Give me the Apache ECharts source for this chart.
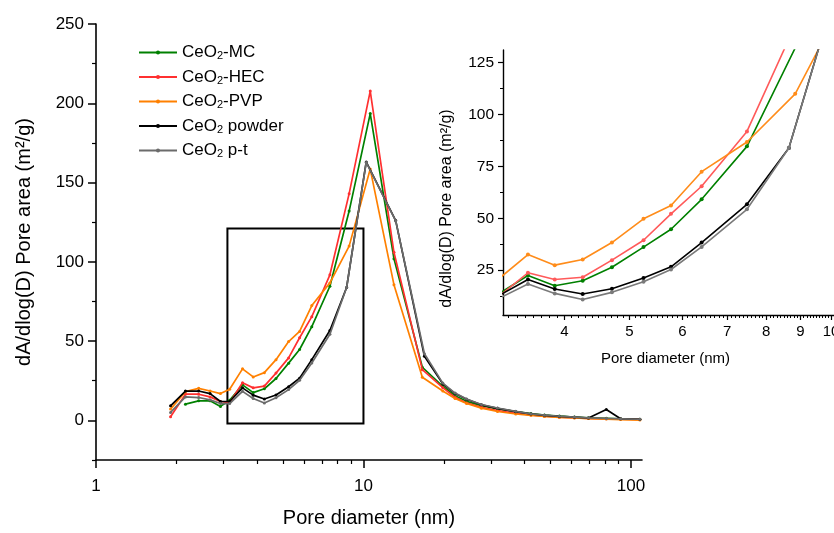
<!DOCTYPE html>
<html>
<head>
<meta charset="utf-8">
<title>Pore size distribution</title>
<script src="https://cdn.jsdelivr.net/npm/echarts@6/dist/echarts.min.js"></script>
<style>
  html, body { margin: 0; padding: 0; background: #fff; }
  #chart { width: 834px; height: 533px; }
</style>
</head>
<body>
<div id="chart"></div>
<script>
// pore diameters (nm) - the two BJH grids differ a little around the peak
var poreA = [1.90, 2.16, 2.42, 2.67, 2.92, 3.16, 3.53, 3.87, 4.26, 4.71, 5.25, 5.77, 6.41, 7.49, 8.84, 10.6, 13.0, 16.6,
  19.8, 22.0, 24.3, 27.6, 31.7, 37.1, 42.3, 47.5, 54.0, 61.5, 69.4, 80.9, 91.5, 108];
var poreB = [1.90, 2.16, 2.42, 2.67, 2.92, 3.16, 3.53, 3.87, 4.26, 4.71, 5.25, 5.77, 6.41, 7.49, 8.65, 10.24, 13.2, 16.9,
  19.8, 22.0, 24.3, 27.6, 31.7, 37.1, 42.3, 47.5, 54.0, 61.5, 69.4, 80.9, 91.5, 108];

var areaMC = [null, 10.2, 12.3, 12.3, 8.8, 12.7, 22.4, 17.5, 19.9, 26.4, 36.1, 44.7, 59.1, 84.6, 132, 193.5, 102, 33.5,
  21.5, 15.5, 12.0, 9.2, 7.2, 5.5, 4.3, 3.4, 2.7, 2.1, 1.6, 1.3, 1.0, 0.7];
var areaHEC = [2.3, 16.5, 16.5, 14.8, 11.9, 11.2, 23.7, 20.5, 21.6, 29.8, 39.4, 52.1, 65.4, 91.8, 143, 207.7, 106, 32.0,
  20.6, 14.5, 11.0, 8.2, 6.2, 4.5, 3.4, 2.6, 2.0, 1.6, 1.3, 1.0, 0.8, 0.6];
var areaPVP = [7.1, 18.1, 20.2, 18.5, 16.9, 19.6, 32.5, 27.4, 30.1, 38.3, 49.7, 56.1, 72.4, 86.7, 109.9, 158.5, 85.6, 27.2,
  18.5, 13.8, 10.6, 7.7, 5.6, 4.0, 3.2, 2.5, 1.9, 1.5, 1.1, 0.8, 0.5, 0.2];
var areaPowder = [9.2, 18.5, 18.5, 16.9, 11.9, 11.9, 20.5, 15.9, 13.5, 16.0, 21.2, 26.6, 38.3, 56.7, 83.8, 163, 126, 40.4,
  23.0, 16.9, 13.3, 9.8, 7.6, 5.5, 4.0, 3.2, 2.5, 2.0, 1.5, 6.8, 1.0, 0.7];
var areaPT = [5.0, 14.8, 14.4, 12.9, 10.6, 10.6, 18.3, 13.8, 10.9, 14.3, 19.4, 25.3, 36.2, 54.3, 83.8, 162.7, 125.8, 42.0,
  23.5, 17.2, 13.5, 10.0, 7.8, 5.7, 4.1, 3.3, 2.6, 2.1, 1.6, 1.2, 1.0, 0.7];

var seriesNames = ['CeO2-MC', 'CeO2-HEC', 'CeO2-PVP', 'CeO2 powder', 'CeO2 p-t'];

// tick labels
var mainYTicks = [0, 50, 100, 150, 200, 250];
var mainYMinor = [-25, 25, 75, 125, 175, 225];
var mainXMinor = [2, 3, 4, 5, 6, 7, 8, 9, 20, 30, 40, 50, 60, 70, 80, 90];
var insetYTicks = [25, 50, 75, 100, 125];
var insetYMinor = [12.5, 37.5, 62.5, 87.5, 112.5];
var insetXTicks = [4, 5, 6, 7, 8, 9, 10];
var insetXMinor = [];
for (var t = 33; t <= 101; t++) { if (t % 10) insetXMinor.push(t / 10); }

// the zoomed region drawn as a box on the main plot
var zoomBox = [[3.1, -2], [10, 121]];

var font = 'Liberation Sans, Arial, sans-serif';
var colors = ['#008000', '#ff3030', '#ff8000', '#000000', '#6b6b6b'];
var insetColors = ['#008000', '#ff5a5a', '#ff8c1a', '#000000', '#7a7a7a'];

function pairs(xs, ys) {
  var out = [];
  for (var i = 0; i < xs.length; i++) {
    if (ys[i] != null) out.push([xs[i], ys[i]]);
  }
  return out;
}

var sets = [
  pairs(poreA, areaMC),
  pairs(poreA, areaHEC),
  pairs(poreA, areaPVP),
  pairs(poreB, areaPowder),
  pairs(poreB, areaPT)
];

var series = [];
sets.forEach(function (d, i) {
  var s = {
    name: seriesNames[i],
    type: 'line',
    xAxisIndex: 0,
    yAxisIndex: 0,
    data: d,
    symbol: 'circle',
    symbolSize: 3,
    lineStyle: { color: colors[i], width: 1.7 },
    itemStyle: { color: colors[i] },
    z: 2 + i
  };
  if (i === 0) {
    s.markArea = {
      silent: true,
      itemStyle: { color: 'rgba(0,0,0,0)', borderColor: '#000', borderWidth: 2 },
      data: [[{ coord: zoomBox[0] }, { coord: zoomBox[1] }]]
    };
  }
  series.push(s);
});
sets.forEach(function (d, i) {
  series.push({
    name: seriesNames[i],
    type: 'line',
    xAxisIndex: 2,
    yAxisIndex: 2,
    data: d,
    clip: true,
    symbol: 'circle',
    symbolSize: 4,
    lineStyle: { color: insetColors[i], width: 1.6 },
    itemStyle: { color: insetColors[i] },
    z: 2 + i
  });
});

var chart = echarts.init(document.getElementById('chart'));
chart.setOption({
  animation: false,
  backgroundColor: '#fff',
  textStyle: { fontFamily: font },
  legend: {
    data: seriesNames,
    orient: 'vertical',
    left: 133,
    top: 39,
    itemWidth: 38,
    itemHeight: 5,
    itemGap: 7,
    textStyle: {
      color: '#000',
      rich: {
        a: { fontSize: 17, fontFamily: font, color: '#000', lineHeight: 18 },
        s: { fontSize: 11, fontFamily: font, color: '#000', lineHeight: 10, verticalAlign: 'bottom' }
      }
    },
    formatter: function (name) {
      return '{a|CeO}{s|2}{a|' + name.slice(4) + '}';
    }
  },
  grid: [
    { left: 96, top: 24, right: 192, bottom: 70 },
    { left: 503, top: 50, right: 0, bottom: 218, outerBoundsMode: 'none' }
  ],
  xAxis: [
    {
      gridIndex: 0, type: 'log', logBase: 10, min: 1, max: 110, position: 'bottom',
      name: 'Pore diameter (nm)', nameLocation: 'middle', nameGap: 48,
      nameTextStyle: { fontSize: 20, color: '#000', fontFamily: font },
      axisLine: { onZero: false, lineStyle: { color: '#000', width: 1.6 } },
      axisTick: { inside: false, length: 8, lineStyle: { color: '#000', width: 1.5 } },
      axisLabel: { fontSize: 17, color: '#000', margin: 18 },
      splitLine: { show: false }
    },
    {
      gridIndex: 0, type: 'log', logBase: 10, min: 1, max: 110, position: 'bottom', offset: 0,
      axisLine: { show: false, onZero: false },
      axisTick: { customValues: mainXMinor, length: 4, lineStyle: { color: '#000', width: 1.2 } },
      axisLabel: { show: false },
      splitLine: { show: false }
    },
    {
      gridIndex: 1, type: 'log', logBase: 10, min: 3.24, max: 10.1, position: 'bottom',
      name: 'Pore diameter (nm)', nameLocation: 'middle', nameGap: 36,
      nameTextStyle: { fontSize: 15, color: '#000', fontFamily: font, padding: [0, 6, 0, 0] },
      axisLine: { onZero: false, lineStyle: { color: '#000', width: 1.4 } },
      axisTick: { customValues: insetXTicks, length: 5, lineStyle: { color: '#000', width: 1.2 } },
      axisLabel: { customValues: insetXTicks, fontSize: 15, color: '#000', margin: 9,
        alignMaxLabel: 'center', alignMinLabel: 'center' },
      splitLine: { show: false }
    },
    {
      gridIndex: 1, type: 'log', logBase: 10, min: 3.24, max: 10.1, position: 'bottom', offset: 0,
      axisLine: { show: false, onZero: false },
      axisTick: { customValues: insetXMinor, length: 3, lineStyle: { color: '#000', width: 1 } },
      axisLabel: { show: false },
      splitLine: { show: false }
    }
  ],
  yAxis: [
    {
      gridIndex: 0, type: 'value', min: -25, max: 250, position: 'left',
      name: 'dA/dlog(D) Pore area (m\u00b2/g)', nameLocation: 'middle', nameGap: 62,
      nameTextStyle: { fontSize: 20, color: '#000', fontFamily: font },
      axisLine: { onZero: false, lineStyle: { color: '#000', width: 1.6 } },
      axisTick: { customValues: mainYTicks, length: 8, lineStyle: { color: '#000', width: 1.5 } },
      axisLabel: { customValues: mainYTicks, fontSize: 17, color: '#000', margin: 12 },
      splitLine: { show: false }
    },
    {
      gridIndex: 0, type: 'value', min: -25, max: 250, position: 'left', offset: 0,
      axisLine: { show: false, onZero: false },
      axisTick: { customValues: mainYMinor, length: 4, lineStyle: { color: '#000', width: 1.2 } },
      axisLabel: { show: false },
      splitLine: { show: false }
    },
    {
      gridIndex: 1, type: 'value', min: 3.4, max: 131, position: 'left',
      name: 'dA/dlog(D) Pore area (m\u00b2/g)', nameLocation: 'middle', nameGap: 48,
      nameTextStyle: { fontSize: 16, color: '#000', fontFamily: font, padding: [0, 52, 0, 0] },
      axisLine: { onZero: false, lineStyle: { color: '#000', width: 1.4 } },
      axisTick: { customValues: insetYTicks, length: 5, lineStyle: { color: '#000', width: 1.2 } },
      axisLabel: { customValues: insetYTicks, fontSize: 15.5, color: '#000', margin: 9 },
      splitLine: { show: false }
    },
    {
      gridIndex: 1, type: 'value', min: 3.4, max: 131, position: 'left', offset: 0,
      axisLine: { show: false, onZero: false },
      axisTick: { customValues: insetYMinor, length: 3, lineStyle: { color: '#000', width: 1 } },
      axisLabel: { show: false },
      splitLine: { show: false }
    }
  ],
  series: series
});
</script>
</body>
</html>
